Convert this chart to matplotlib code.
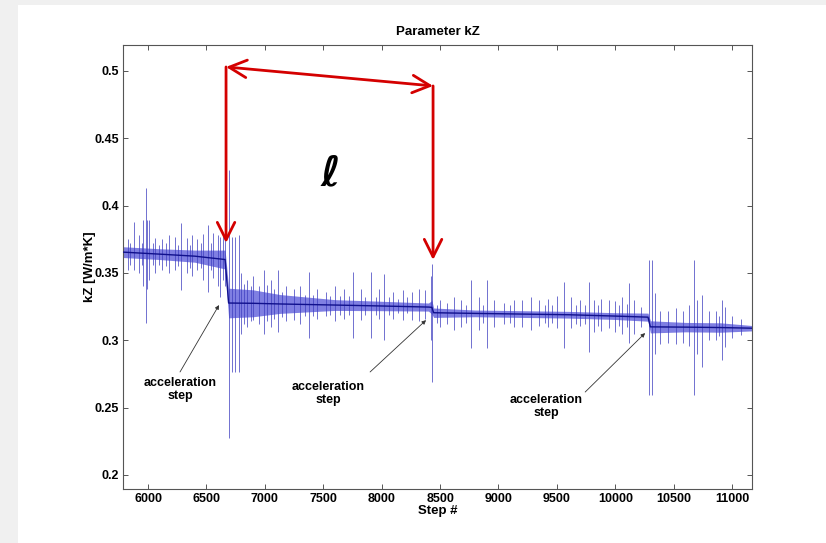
import matplotlib
matplotlib.use("Agg")
import matplotlib.pyplot as plt
from matplotlib.patches import Rectangle

plt.rcParams['font.family'] = ['Liberation Sans', 'DejaVu Sans']

# ---- data ----
# baseline of the signal (knots) and half-width of the dense noise band
base_x = [5786, 6100, 6400, 6660, 6690, 6900, 7130, 7600, 8000, 8400, 8430, 8445,
          8800, 9200, 9600, 10000, 10280, 10300, 10600, 10900, 11170]
base_y = [0.3655, 0.3640, 0.3625, 0.3600, 0.3277, 0.3275, 0.3270, 0.3262, 0.3255, 0.3247,
          0.3245, 0.3205, 0.3200, 0.3195, 0.3190, 0.3180, 0.3172, 0.3100, 0.3098, 0.3095, 0.3090]
band_half = [0.004, 0.004, 0.0045, 0.007, 0.011, 0.010, 0.007, 0.004, 0.0035, 0.003, 0.005,
             0.0035, 0.0025, 0.0025, 0.0025, 0.0025, 0.003, 0.0045, 0.0035, 0.0035, 0.002]

# spikes: step position, upper and lower extreme
spike_x = [5830, 5850, 5880, 5920, 5945, 5960, 5983, 5995, 6010, 6040, 6060, 6090, 6120, 6150,
           6180, 6230, 6260, 6283, 6330, 6360,
           6380, 6420, 6450, 6470, 6514, 6540, 6560, 6600, 6617, 6640, 6660,
           6690, 6720, 6745, 6780,
           6800, 6820, 6850, 6880, 6900, 6950, 6993, 7020, 7050, 7080, 7113, 7150, 7180, 7250,
           7300, 7340, 7378, 7410, 7450, 7520, 7560, 7600,
           7640, 7680, 7720, 7755, 7820, 7860, 7910, 7950, 7980, 8020, 8060, 8100, 8140, 8180,
           8220, 8260, 8320, 8370,
           8425, 8432,
           8470, 8500, 8560, 8620, 8680, 8720, 8765, 8830, 8870, 8903, 8960, 9050, 9100, 9130,
           9200, 9280, 9350, 9400, 9420, 9460, 9500, 9562, 9620, 9660, 9700, 9740, 9776, 9820,
           9850, 9880, 9950, 10000, 10030, 10060, 10100, 10118, 10160, 10220,
           10289, 10312, 10340, 10380, 10450, 10520, 10580, 10630, 10675, 10700, 10744,
           10800, 10860, 10890, 10915, 10935, 11000, 11080]
spike_hi = [0.375, 0.372, 0.388, 0.378, 0.372, 0.389, 0.413, 0.389, 0.389, 0.372, 0.376, 0.371, 0.375, 0.372,
            0.378, 0.377, 0.371, 0.387, 0.376, 0.371,
            0.378, 0.375, 0.372, 0.379, 0.386, 0.372, 0.380, 0.378, 0.377, 0.380, 0.377,
            0.4265, 0.377, 0.377, 0.378,
            0.350, 0.342, 0.345, 0.340, 0.348, 0.340, 0.352, 0.341, 0.345, 0.338, 0.352, 0.336, 0.340, 0.338,
            0.340, 0.334, 0.351, 0.334, 0.338, 0.336, 0.333, 0.340,
            0.333, 0.338, 0.333, 0.351, 0.338, 0.332, 0.351, 0.332, 0.338, 0.349, 0.332, 0.336, 0.331, 0.337,
            0.332, 0.336, 0.338, 0.337,
            0.348, 0.357,
            0.326, 0.330, 0.328, 0.332, 0.330, 0.326, 0.345, 0.332, 0.326, 0.345, 0.330, 0.328, 0.326, 0.330,
            0.330, 0.332, 0.330, 0.326, 0.331, 0.326, 0.333, 0.343, 0.332, 0.326, 0.330, 0.326, 0.343, 0.330,
            0.326, 0.331, 0.330, 0.329, 0.326, 0.332, 0.327, 0.3425, 0.330, 0.325,
            0.3597, 0.3597, 0.335, 0.322, 0.322, 0.324, 0.322, 0.326, 0.3597, 0.330, 0.3337,
            0.322, 0.322, 0.318, 0.330, 0.325, 0.318, 0.316]
spike_lo = [0.352, 0.356, 0.352, 0.350, 0.356, 0.340, 0.313, 0.338, 0.345, 0.356, 0.350, 0.356, 0.352, 0.355,
            0.350, 0.352, 0.355, 0.337, 0.350, 0.354,
            0.348, 0.352, 0.354, 0.345, 0.336, 0.352, 0.346, 0.340, 0.332, 0.345, 0.340,
            0.2275, 0.2765, 0.2765, 0.2765,
            0.305, 0.312, 0.310, 0.314, 0.315, 0.312, 0.305, 0.314, 0.310, 0.316, 0.306, 0.317, 0.314, 0.315,
            0.312, 0.318, 0.302, 0.318, 0.316, 0.318, 0.319, 0.314,
            0.319, 0.316, 0.319, 0.302, 0.315, 0.319, 0.302, 0.319, 0.316, 0.300, 0.319, 0.316, 0.320, 0.315,
            0.320, 0.315, 0.314, 0.316,
            0.300, 0.269,
            0.313, 0.310, 0.312, 0.308, 0.310, 0.313, 0.294, 0.308, 0.313, 0.294, 0.310, 0.312, 0.313, 0.310,
            0.310, 0.308, 0.311, 0.313, 0.310, 0.313, 0.309, 0.294, 0.309, 0.312, 0.311, 0.312, 0.291, 0.306,
            0.311, 0.307, 0.309, 0.306, 0.311, 0.305, 0.310, 0.298, 0.305, 0.310,
            0.2594, 0.2594, 0.290, 0.297, 0.298, 0.297, 0.298, 0.296, 0.2594, 0.290, 0.2802,
            0.300, 0.300, 0.303, 0.2854, 0.295, 0.302, 0.304]

x_ticks = [6000, 6500, 7000, 7500, 8000, 8500, 9000, 9500, 10000, 10500, 11000]
y_ticks = [0.2, 0.25, 0.3, 0.35, 0.4, 0.45, 0.5]
y_tick_labels = ['0.2', '0.25', '0.3', '0.35', '0.4', '0.45', '0.5']

notes_text = ['acceleration\nstep', 'acceleration\nstep', 'acceleration\nstep']
notes_xy_text = [(6274, 0.2635), (7541, 0.2605), (9408, 0.2509)]
notes_tail = [(6274, 0.2765), (7901, 0.2765), (9742, 0.2616)]
notes_head = [(6608, 0.3262), (8380, 0.315), (10255, 0.3054)]

# red markers of the length l
red_left = (6668, 0.503, 0.3723)
red_right = (8440, 0.4889, 0.3597)

# ---- figure ----
W, H = 826, 543
fig = plt.figure(figsize=(W / 100, H / 100), dpi=100)
fig.patch.set_facecolor('#f0f0f0')
fig.patches.append(Rectangle((18 / W, 0), 1 - 18 / W, 1 - 5 / H, transform=fig.transFigure,
                             facecolor='white', edgecolor='none', zorder=-10))

ax = fig.add_axes([123 / W, 1 - 489 / H, (752 - 123) / W, (489 - 45) / H])
ax.set_facecolor('white')

lo_band = [b - h for b, h in zip(base_y, band_half)]
hi_band = [b + h for b, h in zip(base_y, band_half)]
ax.fill_between(base_x, lo_band, hi_band, color='#2a2ad0', alpha=0.6, linewidth=0, zorder=2)
ax.vlines(spike_x, spike_lo, spike_hi, colors='#4040c0', linewidth=0.7, alpha=0.75, zorder=2)
ax.plot(base_x, base_y, color='#10108c', linewidth=1.0, zorder=3)

ax.set_xlim(5786, 11170)
ax.set_ylim(0.1896, 0.5193)
ax.set_xticks(x_ticks)
ax.set_xticklabels([str(v) for v in x_ticks])
ax.set_yticks(y_ticks)
ax.set_yticklabels(y_tick_labels)
ax.tick_params(direction='in', length=3.5, width=0.7, top=True, right=True,
               labelsize=9, colors='#555555', labelcolor='black', pad=3)
for lab in ax.get_xticklabels() + ax.get_yticklabels():
    lab.set_fontweight('bold')
for sp in ax.spines.values():
    sp.set_color('#555555')
    sp.set_linewidth(0.8)

ax.set_title('Parameter kZ', fontsize=9.5, fontweight='bold', pad=7)
ax.set_xlabel('Step #', fontsize=9.5, fontweight='bold', labelpad=0)
ax.set_ylabel('kZ [W/m*K]', fontsize=9.5, fontweight='bold', labelpad=-1)

for txt, pos, tail, head in zip(notes_text, notes_xy_text, notes_tail, notes_head):
    ax.text(pos[0], pos[1], txt, ha='center', va='center', fontsize=9,
            fontweight='bold', linespacing=1.05, zorder=5)
    ax.annotate('', xy=head, xytext=tail,
                arrowprops=dict(arrowstyle='-|>', color='#333333', lw=0.6,
                                mutation_scale=6, shrinkA=0, shrinkB=0), zorder=5)

red = '#d40000'
lx, ltop, lbot = red_left
rx, rtop, rbot = red_right
for (x0, y0, y1) in [red_left, red_right]:
    ax.annotate('', xy=(x0, y1), xytext=(x0, y0),
                arrowprops=dict(arrowstyle='->, head_length=0.9, head_width=0.45', color=red,
                                lw=2.0, shrinkA=0, shrinkB=0, mutation_scale=14), zorder=6)
ax.annotate('', xy=(rx, rtop), xytext=(lx, ltop),
            arrowprops=dict(arrowstyle='<->, head_length=0.9, head_width=0.45', color=red,
                            lw=2.0, shrinkA=0, shrinkB=0, mutation_scale=14), zorder=6)

ax.text(7558, 0.424, '\u2113', fontsize=30, fontweight='bold', fontstyle='italic',
        family=['DejaVu Sans'], ha='center', va='center', zorder=6)

fig.savefig('out.png', dpi=100, facecolor=fig.get_facecolor())
